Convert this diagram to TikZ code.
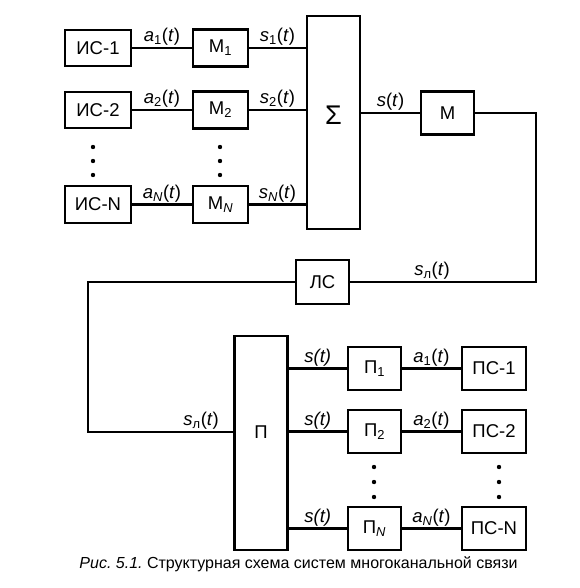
\documentclass[tikz,border=0pt]{standalone}
\usepackage{fontspec}
\setmainfont{Liberation Sans}
\frenchspacing
\newcommand{\sgl}[2]{\textit{#1}\textsubscript{#2}(\textit{t})}
\tikzset{
  blk/.style={draw, line width=2.8pt, inner sep=0pt, minimum width=53pt, minimum height=43pt},
  ln/.style={line width=2.2pt},
  lbl/.style={above, inner sep=1.5pt}
}
\begin{document}
\begin{tikzpicture}[x=1pt, y=-1pt, font=\fontsize{18.5}{21}\selectfont]
                \useasboundingbox (0,0) rectangle (579,588);
                % sources and modulators
                \node [blk, minimum width=66pt, minimum height=36pt] (IS1) at (98,48) {ИС-1};
                \node [blk, minimum width=66pt, minimum height=36pt] (IS2) at (98,110) {ИС-2};
                \node [blk, minimum width=66pt, minimum height=37pt] (ISN) at (98,204.5) {ИС-N};
                \node [blk, minimum width=55pt, minimum height=37pt] (M1) at (220.5,48) {M\textsubscript{1}};
                \node [blk, minimum width=55pt, minimum height=37pt] (M2) at (220.5,110) {M\textsubscript{2}};
                \node [blk, minimum width=55pt, minimum height=37pt] (MN) at (220.5,204.5) {M\textsubscript{\textit{N}}};
                \node [blk, minimum height=213pt] (S) at (333.5,122.5) {};
                \node [font=\fontsize{27}{29}\selectfont] (SS) at (333.5,115) {Σ};
                \node [blk] (MM) at (447.5,113) {M};
                \node [blk, minimum height=44pt] (LS) at (322.5,282) {ЛС};
                % receivers
                \node [blk, minimum height=214pt] (P) at (261,443) {};
                \node (PP) at (261,432) {П};
                \node [blk] (P1) at (374.5,368.5) {П\textsubscript{1}};
                \node [blk] (P2) at (374.5,431.5) {П\textsubscript{2}};
                \node [blk] (PN) at (374.5,528.5) {П\textsubscript{\textit{N}}};
                \node [blk, minimum width=64pt] (PS1) at (494,368.5) {ПС-1};
                \node [blk, minimum width=64pt] (PS2) at (494,431.5) {ПС-2};
                \node [blk, minimum width=64pt] (PSN) at (494,528.5) {ПС-N};
                \coordinate (R1) at (536,113);
                \coordinate (R2) at (536,282);
                \coordinate (L1) at (88,282);
                \coordinate (L2) at (88,432);

                  \draw [ln] (IS1) -- (M1) node [midway, lbl] {\sgl{a}{1}};
                  \draw [ln] (IS2) -- (M2) node [midway, lbl] {\sgl{a}{2}};
                  \draw [ln] (ISN) -- (MN) node [midway, lbl] {\sgl{a}{\textit{N}}};
                  \draw [ln] (M1) -- (M1 -| S.west) node [midway, lbl] {\sgl{s}{1}};
                  \draw [ln] (M2) -- (M2 -| S.west) node [midway, lbl] {\sgl{s}{2}};
                  \draw [ln] (MN) -- (MN -| S.west) node [midway, lbl] {\sgl{s}{\textit{N}}};
                  \draw [ln] (MM -| S.east) -- (MM) node [midway, lbl] {\textit{s}(\textit{t})};
                  \draw [ln] (MM) -- (R1) -- (R2) -- (LS) node [pos=0.56, lbl] {\sgl{s}{л}};
                  \draw [ln] (LS) -- (L1) -- (L2) -- (P.west |- L2) node [pos=0.78, lbl] {\sgl{s}{л}};
                  \draw [ln] (P1 -| P.east) -- (P1) node [midway, lbl] {\textit{s(t)}};
                  \draw [ln] (P2 -| P.east) -- (P2) node [midway, lbl] {\textit{s(t)}};
                  \draw [ln] (PN -| P.east) -- (PN) node [midway, lbl] {\textit{s(t)}};
                  \draw [ln] (P1) -- (PS1) node [midway, lbl] {\sgl{a}{1}};
                  \draw [ln] (P2) -- (PS2) node [midway, lbl] {\sgl{a}{2}};
                  \draw [ln] (PN) -- (PSN) node [midway, lbl] {\sgl{a}{\textit{N}}};

                  % dots
                  \fill (93,147) circle (2.2pt);  \fill (93,161) circle (2.2pt);  \fill (93,175) circle (2.2pt);
                  \fill (220,147) circle (2.2pt); \fill (220,161) circle (2.2pt); \fill (220,175) circle (2.2pt);
                  \fill (374,467) circle (2.2pt); \fill (374,482) circle (2.2pt); \fill (374,497) circle (2.2pt);
                  \fill (499,467) circle (2.2pt); \fill (499,482) circle (2.2pt); \fill (499,497) circle (2.2pt);

                \node [font=\fontsize{16}{19}\selectfont] (CAP) at (298.5,564) {\textit{Рис. 5.1.} Структурная схема систем многоканальной связи};
            \end{tikzpicture}
\end{document}
